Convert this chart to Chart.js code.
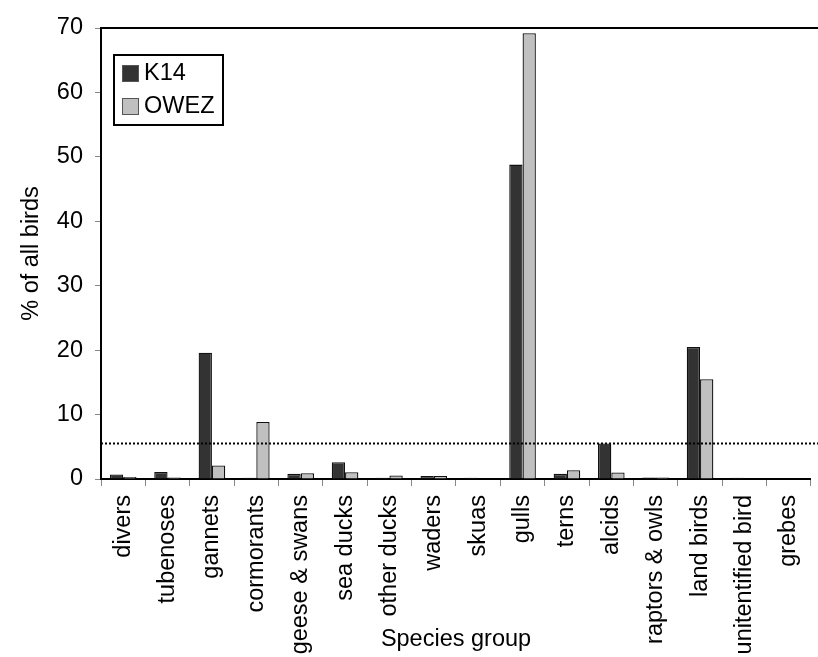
<!DOCTYPE html>
<html>
<head>
<meta charset="utf-8">
<script src="https://cdn.jsdelivr.net/npm/chart.js@4/dist/chart.umd.min.js"></script>
<style>
  html, body { margin: 0; padding: 0; background: #fff; overflow: hidden; }
  #wrap { width: 826px; height: 657px; }
</style>
</head>
<body>
<div id="wrap"><canvas id="chart" width="826" height="657"></canvas></div>
<script>
// Species groups and share of all birds (%) per survey site
const categories = [
  'divers', 'tubenoses', 'gannets', 'cormorants', 'geese & swans', 'sea ducks',
  'other ducks', 'waders', 'skuas', 'gulls', 'terns', 'alcids',
  'raptors & owls', 'land birds', 'unitentified bird', 'grebes'
];
const k14 = [0.7, 1.1, 19.6, 0.2, 0.8, 2.6, 0.2, 0.45, 0.2, 48.8, 0.8, 5.5, 0.25, 20.5, 0.2, 0];
const owez = [0.3, 0.25, 2.1, 8.85, 0.9, 1.05, 0.55, 0.45, 0.1, 69.2, 1.35, 1.0, 0.25, 15.5, 0, 0];
const yTicks = [0, 10, 20, 30, 40, 50, 60, 70];
const threshold = 5.65;

const FONT = 'Liberation Sans, Arial, Helvetica, sans-serif';
const FS = 23.5;

// Frame line along the top, dotted reference line, x-axis title and boxed legend
const decorations = {
  id: 'decorations',
  afterDatasetsDraw(chart) {
    const { ctx, chartArea: a, scales: { y } } = chart;
    ctx.save();
    ctx.strokeStyle = '#000';
    ctx.lineWidth = 2;
    ctx.beginPath();
    ctx.moveTo(a.left - 1, a.top);
    ctx.lineTo(a.right + 10, a.top);
    ctx.stroke();

    const ty = Math.round(y.getPixelForValue(threshold)) + 0.5;
    ctx.setLineDash([2, 2]);
    ctx.lineWidth = 2;
    ctx.beginPath();
    ctx.moveTo(a.left, ty);
    ctx.lineTo(a.right + 10, ty);
    ctx.stroke();
    ctx.setLineDash([]);

    ctx.fillStyle = '#000';
    ctx.font = FS + 'px ' + FONT;
    ctx.textAlign = 'center';
    ctx.textBaseline = 'middle';
    ctx.fillText('Species group', (a.left + a.right) / 2, chart.height - 17);

    // legend
    const lx = a.left + 13, ly = a.top + 27, lw = 109, lh = 70;
    ctx.fillStyle = '#fff';
    ctx.fillRect(lx, ly, lw, lh);
    ctx.lineWidth = 2;
    ctx.strokeStyle = '#000';
    ctx.strokeRect(lx, ly, lw, lh);
    chart.data.datasets.forEach((ds, i) => {
      const sy = ly + 10 + i * 33;
      ctx.fillStyle = ds.backgroundColor;
      ctx.fillRect(lx + 8, sy, 17, 17);
      ctx.lineWidth = 1;
      ctx.strokeStyle = '#555';
      ctx.strokeRect(lx + 8.5, sy + 0.5, 16, 16);
      ctx.fillStyle = '#000';
      ctx.font = FS + 'px ' + FONT;
      ctx.textAlign = 'left';
      ctx.textBaseline = 'middle';
      ctx.fillText(ds.label, lx + 30, sy + 9);
    });
    ctx.restore();
  }
};

new Chart(document.getElementById('chart'), {
  type: 'bar',
  data: {
    labels: categories,
    datasets: [
      { label: 'K14', data: k14, backgroundColor: '#333333', borderColor: '#111', borderWidth: 1.3 },
      { label: 'OWEZ', data: owez, backgroundColor: '#c0c0c0', borderColor: '#111', borderWidth: 1.3 }
    ]
  },
  options: {
    responsive: false,
    animation: false,
    layout: { padding: { top: 28, right: 0, bottom: 0, left: 0 } },
    datasets: { bar: { categoryPercentage: 0.6, barPercentage: 1.0 } },
    plugins: { legend: { display: false }, tooltip: { enabled: false } },
    scales: {
      x: {
        afterFit(scale) { scale.height = 178; },
        grid: { offset: true, drawOnChartArea: false, drawTicks: true, tickLength: 7, color: '#888', lineWidth: 1 },
        border: { display: true, color: '#000', width: 2 },
        ticks: {
          autoSkip: false, minRotation: 90, maxRotation: 90, padding: 9,
          color: '#000', font: { family: FONT, size: FS }
        }
      },
      y: {
        min: 0, max: 70,
        afterFit(scale) { scale.width = 101; },
        afterBuildTicks(scale) { scale.ticks = yTicks.map(v => ({ value: v })); },
        grid: { drawOnChartArea: false, drawTicks: true, tickLength: 6, color: '#888' },
        border: { display: true, color: '#000', width: 2 },
        ticks: { padding: 12, color: '#000', font: { family: FONT, size: FS } },
        title: {
          display: true, text: '% of all birds', color: '#000',
          font: { family: FONT, size: FS }, padding: { top: 17, bottom: 0 }
        }
      }
    }
  },
  plugins: [decorations]
});
</script>
</body>
</html>
